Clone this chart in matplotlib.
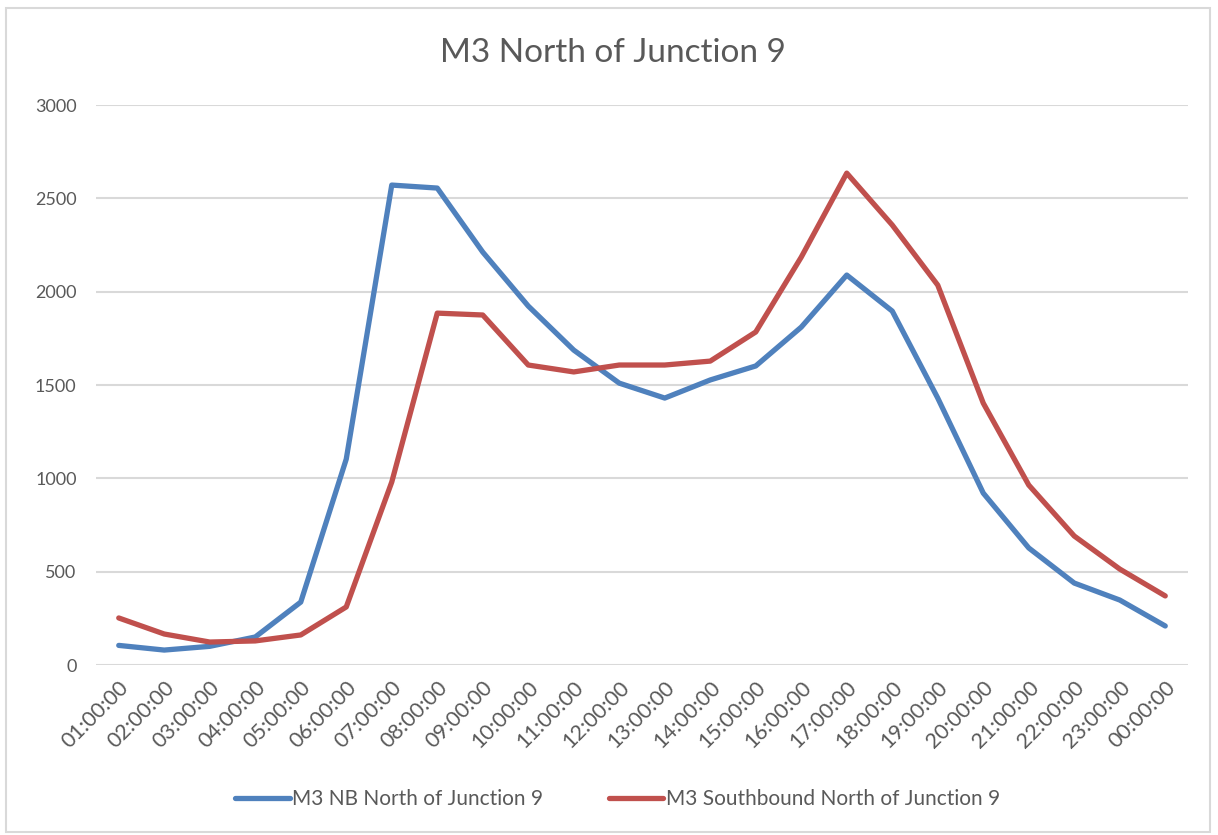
import matplotlib.pyplot as plt
from matplotlib.patches import Rectangle

plt.rcParams['font.family'] = ['Lato', 'DejaVu Sans']

# hourly counts
hours = ["01:00:00", "02:00:00", "03:00:00", "04:00:00", "05:00:00", "06:00:00",
         "07:00:00", "08:00:00", "09:00:00", "10:00:00", "11:00:00", "12:00:00",
         "13:00:00", "14:00:00", "15:00:00", "16:00:00", "17:00:00", "18:00:00",
         "19:00:00", "20:00:00", "21:00:00", "22:00:00", "23:00:00", "00:00:00"]
northbound = [105, 80, 100, 150, 337, 1103, 2571, 2555, 2212, 1923, 1687, 1510,
              1430, 1527, 1602, 1810, 2089, 1896, 1430, 921, 627, 439, 348, 209]
southbound = [252, 166, 123, 129, 161, 311, 980, 1885, 1875, 1607, 1570, 1607,
              1607, 1628, 1784, 2185, 2635, 2357, 2035, 1403, 964, 691, 514, 370]

txt = '#595959'
grid = '#d9d9d9'

fig = plt.figure(figsize=(12.18, 8.35), dpi=100)
# chart frame
fig.patches.append(Rectangle((6/1218, 3/835), 1204/1218, 824/835,
                             transform=fig.transFigure, fill=False,
                             edgecolor=grid, linewidth=1.5))

ax = fig.add_axes([96/1218, 1 - 665/835, 1092/1218, 560/835])
x = range(len(hours))
ax.plot(x, northbound, color='#4f81bd', linewidth=3.8, solid_capstyle='round',
        label='M3 NB North of Junction 9')
ax.plot(x, southbound, color='#c0504d', linewidth=3.8, solid_capstyle='round',
        label='M3 Southbound North of Junction 9')

ax.set_xlim(-0.5, len(hours) - 0.5)
ax.set_ylim(0, 3000)
ax.set_yticks(range(0, 3001, 500))
ax.set_xticks(list(x))
ax.set_xticklabels(hours, rotation=45, ha='right', va='top',
                   rotation_mode='anchor', color=txt, fontsize=15.5)
ax.tick_params(axis='y', labelcolor=txt, labelsize=13, length=0, pad=14)
ax.tick_params(axis='x', length=0, pad=9)
ax.grid(axis='y', color=grid, linewidth=1.5)
ax.set_axisbelow(True)
for s in ax.spines.values():
    s.set_visible(False)

fig.text(0.503, 1 - 53/835, 'M3 North of Junction 9', ha='center', va='center',
         fontsize=24, color=txt)

fig.legend(loc='center', bbox_to_anchor=(0.507, 1 - 799/835), ncol=2,
           frameon=False, fontsize=15, labelcolor=txt, handlelength=2.6,
           handletextpad=0.1, columnspacing=3.2)

plt.savefig('out.png', dpi=100)
